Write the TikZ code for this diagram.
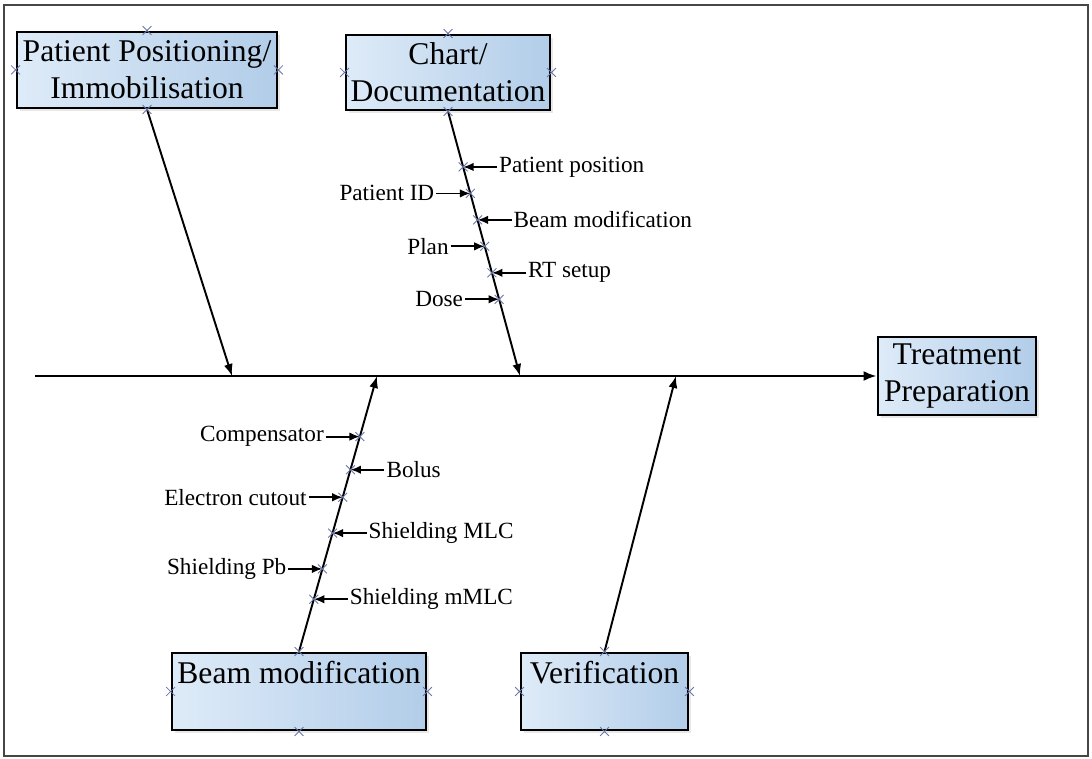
\documentclass[tikz,border=0pt]{standalone}
\usepackage{fontspec}
\setmainfont{Liberation Serif}
\usetikzlibrary{positioning,arrows.meta,shapes.misc,shadows}

\definecolor{boxlight}{RGB}{222,235,248}
\definecolor{boxdark}{RGB}{178,205,233}
\definecolor{cptcol}{RGB}{105,118,168}
\definecolor{framecol}{RGB}{70,70,70}

\begin{document}
\begin{tikzpicture}[
    x=0.02cm, y=-0.02cm,
    cause/.style={
        rectangle,
        draw=black,
        line width=1.6pt,
        left color=boxlight,
        right color=boxdark,
        align=center,
        inner sep=0pt,
        font=\fontsize{18}{21}\selectfont,
        drop shadow={opacity=0.18, shadow xshift=1.5pt, shadow yshift=-1.5pt},
    },
    sub/.style={
        inner sep=1pt,
        font=\fontsize{13.2}{15}\selectfont,
    },
    spine/.style={
        line width=1.4pt,
        draw=black,
        -{Latex[length=2.6mm,width=2mm]}
    },
    branch/.style={
        line width=1.1pt,
        draw=black,
        -{Latex[length=2.4mm,width=1.8mm]}
    },
    subarrow/.style={
        line width=1pt,
        draw=black,
        -{Latex[length=2.1mm,width=1.7mm]}
    },
    cpt/.style={
        cross out,
        draw=cptcol,
        line width=0.5pt,
        minimum size=1.6mm,
        inner sep=0pt,
    },
    node distance=6.8mm
]

    \useasboundingbox (0,0) rectangle (1092,759);
    \draw[framecol, line width=1pt] (4,5) rectangle (1088,756);

    % effect and main causes
    \node[cause, minimum width=3.16cm, minimum height=1.56cm] (treat) at (957,376) {Treatment\\Preparation};

    \node[cause, minimum width=5.2cm, minimum height=1.52cm] (pat) at (147,70) {Patient Positioning/\\Immobilisation};
    \node[cause, minimum width=4.08cm, minimum height=1.5cm] (chart) at (448,72.5) {Chart/\\Documentation};

    \node[cause, minimum width=5.08cm, text height=0.6cm, text depth=0.94cm] (beam) at (299,691.5) {Beam modification};
    \node[cause, minimum width=3.34cm, text height=0.6cm, text depth=0.94cm] (verif) at (604.5,691.5) {Verification};

    % spine
    \coordinate (tail) at (35,376);
    \coordinate (j1) at (232,376);
    \coordinate (j2) at (520,376);
    \coordinate (j3) at (377,376);
    \coordinate (j4) at (676,376);

    \draw[spine] (tail) -- (treat);

    % branches
    \draw[branch] (pat.south) -- (j1);
    \draw[branch] (chart.south) --
        coordinate[pos=.21] (c1) coordinate[pos=.31] (c2)
        coordinate[pos=.41] (c3) coordinate[pos=.51] (c4)
        coordinate[pos=.61] (c5) coordinate[pos=.71] (c6) (j2);
    \draw[branch] (beam.north) --
        coordinate[pos=.19] (b1) coordinate[pos=.30] (b2)
        coordinate[pos=.43] (b3) coordinate[pos=.56] (b4)
        coordinate[pos=.66] (b5) coordinate[pos=.78] (b6) (j3);
    \draw[branch] (verif.north) -- (j4);

    % chart/documentation
    \node[sub, right=of c1] (ppos) {Patient position};
    \node[sub, left=of c2] (pid) {Patient ID};
    \node[sub, right=of c3] (bmod) {Beam modification};
    \node[sub, left=of c4] (plan) {Plan};
    \node[sub, right=of c5] (rts) {RT setup};
    \node[sub, left=of c6] (dose) {Dose};

    \draw[subarrow] (ppos) -- (c1);
    \draw[subarrow] (pid) -- (c2);
    \draw[subarrow] (bmod) -- (c3);
    \draw[subarrow] (plan) -- (c4);
    \draw[subarrow] (rts) -- (c5);
    \draw[subarrow] (dose) -- (c6);

    % beam modification
    \node[sub, right=of b1] (smmlc) {Shielding mMLC};
    \node[sub, left=of b2] (spb) {Shielding Pb};
    \node[sub, right=of b3] (smlc) {Shielding MLC};
    \node[sub, left=of b4] (ecut) {Electron cutout};
    \node[sub, right=of b5] (bolus) {Bolus};
    \node[sub, left=of b6] (comp) {Compensator};

    \draw[subarrow] (smmlc) -- (b1);
    \draw[subarrow] (spb) -- (b2);
    \draw[subarrow] (smlc) -- (b3);
    \draw[subarrow] (ecut) -- (b4);
    \draw[subarrow] (bolus) -- (b5);
    \draw[subarrow] (comp) -- (b6);

    % connection points
    \foreach \p [count=\i] in {pat.north, pat.south, pat.east, pat.west,
        chart.north, chart.south, chart.east, chart.west,
        beam.north, beam.south, beam.east, beam.west,
        verif.north, verif.south, verif.east, verif.west,
        c1, c2, c3, c4, c5, c6, b1, b2, b3, b4, b5, b6}
        \node[cpt] (cp\i) at (\p) {};

\end{tikzpicture}
\end{document}
